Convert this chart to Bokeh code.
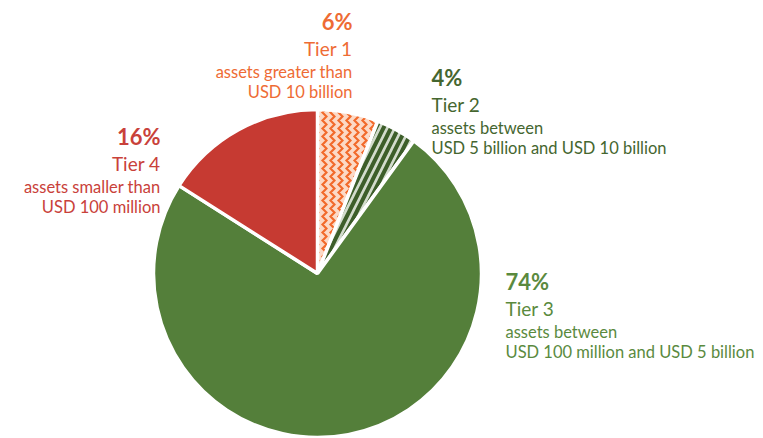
import math
from bokeh.plotting import figure
from bokeh.models import Range1d, ColumnDataSource
from bokeh.core.properties import value
from bokeh.embed import file_html
from bokeh.resources import INLINE

# ---- data ----
tiers = ["Tier 1", "Tier 2", "Tier 3", "Tier 4"]
shares = [6, 4, 74, 16]
pct_labels = ["6%", "4%", "74%", "16%"]
desc_line1 = ["assets greater than", "assets between", "assets between", "assets smaller than"]
desc_line2 = ["USD 10 billion", "USD 5 billion and USD 10 billion",
              "USD 100 million and USD 5 billion", "USD 100 million"]

# ---- styles ----
fill_colors = ["#FCD9C6", "#D3DCCD", "#547F3A", "#C63A32"]
hatch_patterns = ["vertical_wave", "right_diagonal_line", " ", " "]
hatch_colors = ["#F26A2B", "#3D5E2A", "#547F3A", "#C63A32"]
hatch_scales = [8, 15, 9, 9]
hatch_weights = [2.2, 4, 1, 1]
text_colors = ["#EE6B34", "#45662F", "#5A8A3E", "#C9413A"]

W, H = 763, 438
IMG_H = 438
def Y(y_img):
    return IMG_H - y_img

p = figure(width=W, height=H, output_backend="svg", toolbar_location=None,
           x_range=Range1d(0, W), y_range=Range1d(IMG_H - H, IMG_H),
           min_border=0)
p.axis.visible = False
p.grid.visible = False
p.outline_line_color = None
p.background_fill_color = "white"

total = float(sum(shares))
starts, ends = [], []
acc = 0.0
for s in shares:
    a0 = math.pi / 2 - 2 * math.pi * acc / total
    acc += s
    a1 = math.pi / 2 - 2 * math.pi * acc / total
    starts.append(a1)
    ends.append(a0)

cx, cy, r = 317, Y(273), 164
src = ColumnDataSource(dict(tier=tiers, share=shares, start=starts, end=ends,
                            fill=fill_colors, hp=hatch_patterns, hc=hatch_colors,
                            hs=hatch_scales, hw=hatch_weights))
p.wedge(x=cx, y=cy, radius=r, start_angle="start", end_angle="end",
        fill_color="fill", hatch_pattern="hp", hatch_color="hc",
        hatch_scale="hs", hatch_weight="hw",
        line_color="white", line_width=3.5, source=src)

# ---- labels (layout positions in image pixels) ----
label_x = [352, 431, 505, 160]
label_align = ["right", "left", "left", "right"]
label_y0 = [21, 77, 281, 136]

font = value("Lato")
for i in range(len(tiers)):
    x = label_x[i]
    y0 = label_y0[i]
    rows = [(pct_labels[i], "22px", "bold", 0),
            (tiers[i], "19px", "normal", 27),
            (desc_line1[i], "16.5px", "normal", 50),
            (desc_line2[i], "16.5px", "normal", 70)]
    for txt, size, style, dy in rows:
        p.text(x=[x], y=[Y(y0 + dy)], text=[txt], text_font=font,
               text_font_size=size, text_font_style=style,
               text_color=text_colors[i], text_align=label_align[i],
               text_baseline="middle")

open("out.html", "w").write(file_html(p, INLINE))
